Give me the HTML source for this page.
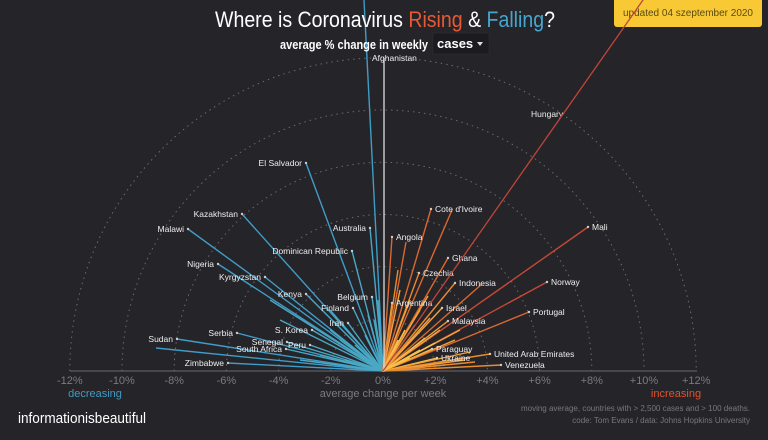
<!DOCTYPE html>
<html><head><meta charset="utf-8"><style>
html,body{margin:0;padding:0;background:#252429;width:768px;height:440px;overflow:hidden}
svg{display:block}
text{font-family:"Liberation Sans",sans-serif}
</style></head><body>
<svg id="s" width="768" height="440" viewBox="0 0 768 440" xmlns="http://www.w3.org/2000/svg">
<rect width="768" height="440" fill="#252429"/>
<g id="arcs" fill="none" stroke="#6a6a70" stroke-width="1" stroke-dasharray="1.5 4"></g>
<line x1="70" y1="371" x2="697" y2="371" stroke="#6a6a70" stroke-width="1"/>
<g id="lines"></g>
<line x1="384" y1="371" x2="384" y2="58" stroke="#ddd" stroke-width="1.3"/>
<g id="labels" fill="#eee" font-size="8.5"></g>
<g id="ticks" fill="#7a7a80" font-size="11" text-anchor="middle"></g>
<text x="95" y="397" fill="#3f9bc4" font-size="11" text-anchor="middle">decreasing</text>
<text x="676" y="397" fill="#e0532e" font-size="11" text-anchor="middle">increasing</text>
<text x="383" y="397" fill="#7a7a80" font-size="11" text-anchor="middle">average change per week</text>
<rect x="614" y="-4" width="148" height="31" rx="3" fill="#f8c935"/>
<text x="688" y="16" fill="#5a4a10" font-size="10" text-anchor="middle" textLength="130" lengthAdjust="spacingAndGlyphs">updated 04 szeptember 2020</text>
<line x1="383" y1="371" x2="650" y2="-10" stroke="#c0453a" stroke-width="1.3"/>
<text x="215" y="27" fill="#fff" font-size="22" textLength="340" lengthAdjust="spacingAndGlyphs">Where is Coronavirus <tspan fill="#e75a33">Rising</tspan> &amp; <tspan fill="#45a6cf">Falling</tspan>?</text>
<text x="280" y="49" fill="#fff" font-size="12.5" font-weight="bold" textLength="148" lengthAdjust="spacingAndGlyphs">average % change in weekly</text>
<rect x="433" y="33" width="56" height="21" fill="#1c1b1f" stroke="#333" stroke-width="0.5"/>
<text x="437" y="48" fill="#fff" font-size="13" font-weight="bold" font-family="Liberation Mono">cases</text>
<path d="M477 42 L483 42 L480 46 Z" fill="#ddd"/>
<text x="18" y="423" fill="#fff" font-size="15" textLength="128" lengthAdjust="spacingAndGlyphs">informationisbeautiful</text>
<text x="750" y="411" fill="#77777d" font-size="8" text-anchor="end">moving average, countries with &gt; 2,500 cases and &gt; 100 deaths.</text>
<text x="750" y="423" fill="#77777d" font-size="8" text-anchor="end">code: Tom Evans / data: Johns Hopkins University</text>
</svg>
<script>
var NS="http://www.w3.org/2000/svg",cx=383,cy=371,u=26.1;
function el(p,t,a){var e=document.createElementNS(NS,t);for(var k in a)e.setAttribute(k,a[k]);p.appendChild(e);return e;}
var arcs=document.getElementById('arcs');
for(var i=2;i<=12;i+=2){var r=i*u;el(arcs,'path',{d:'M'+(cx-r)+' '+cy+' A'+r+' '+r+' 0 0 1 '+(cx+r)+' '+cy});}
var tk=document.getElementById('ticks');
for(var v=-12;v<=12;v+=2){var t=el(tk,'text',{x:cx+v*u,y:384});t.textContent=(v>0?'+':'')+v+'%';}
var L=document.getElementById('lines'),lb=document.getElementById('labels');
var blue=[[364,0,''],[306,163,'El Salvador'],[242,214,'Kazakhstan'],[188,229,'Malawi'],[218,264,'Nigeria'],[265,277,'Kyrgyzstan'],[306,294,'Kenya'],[352,251,'Dominican Republic'],[370,228,'Australia'],[372,297,'Belgium'],[353,308,'Finland'],[348,323,'Iran'],[312,330,'S. Korea'],[310,345,'Peru'],[237,333,'Serbia'],[287,342,'Senegal'],[286,349,'South Africa'],[177,339,'Sudan'],[156,348,''],[228,363,'Zimbabwe'],
[330,330,''],[340,340,''],[355,345,''],[362,355,''],[365,335,''],[374,320,''],[378,300,''],[320,355,''],[300,360,''],[345,360,''],[360,365,''],[280,320,''],[270,300,''],[330,310,''],[376,345,''],[368,315,'']];
var org=[[431,209,"Cote d'Ivoire"],[452,210,''],[392,237,'Angola'],[406,242,''],[448,258,'Ghana'],[419,273,'Czechia'],[455,283,'Indonesia'],[482,284,''],[392,303,'Argentina'],[442,308,'Israel'],[448,321,'Malaysia'],[432,349,'Paraguay'],[437,358,'Ukraine'],[490,354,'United Arab Emirates'],[501,365,'Venezuela'],[529,312,'Portugal'],[547,282,'Norway'],[588,227,'Mali'],
[400,290,''],[410,300,''],[420,310,''],[430,318,''],[415,325,''],[440,330,''],[425,338,''],[455,340,''],[470,352,''],[465,360,''],[445,365,''],[405,330,''],[398,340,''],[420,350,''],[410,358,''],[460,330,''],[428,296,''],[398,270,''],[475,362,''],[435,343,'']];
blue.forEach(function(b){var d=Math.hypot(b[0]-cx,b[1]-cy);el(L,'line',{x1:cx,y1:cy,x2:b[0],y2:b[1],stroke:d>150?'#3f9dc8':'#4aa8c4','stroke-width':1.4});});
org.forEach(function(b){var d=Math.hypot(b[0]-cx,b[1]-cy);var c=d>180?'#c64a36':d>130?'#d9692f':d>90?'#ea8a2c':d>60?'#f2a23a':'#f7c34a';el(L,'line',{x1:cx,y1:cy,x2:b[0],y2:b[1],stroke:c,'stroke-width':1.4});});
function lab(x,y,s,anchor){var t=el(lb,'text',{x:x,y:y,'text-anchor':anchor});t.textContent=s;}
blue.forEach(function(b){if(b[2]){el(lb,'circle',{cx:b[0],cy:b[1],r:1.2,fill:'#ccc'});lab(b[0]-4,b[1]+3,b[2],'end');}});
org.forEach(function(b){if(b[2]){el(lb,'circle',{cx:b[0],cy:b[1],r:1.2,fill:'#ccc'});lab(b[0]+4,b[1]+3,b[2],'start');}});
lab(372,61,'Afghanistan','start');lab(531,117,'Hungary','start');
</script>
</body></html>
